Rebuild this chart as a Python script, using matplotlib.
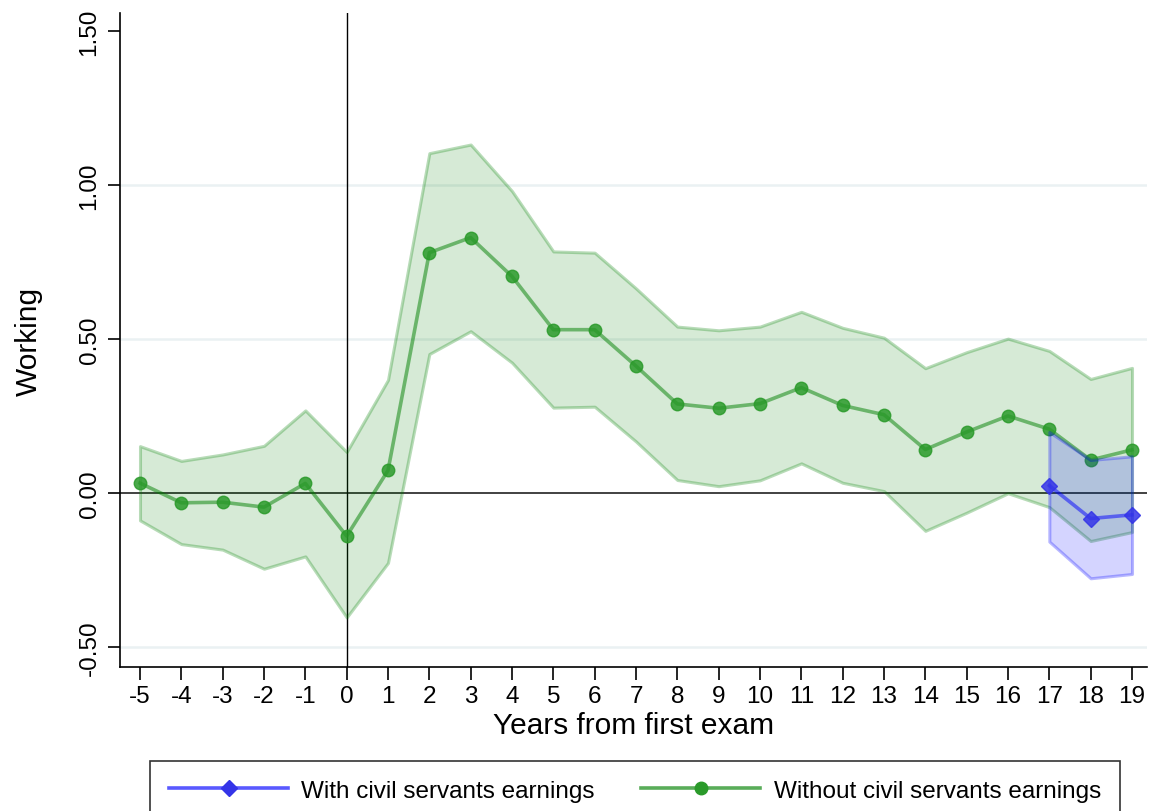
import matplotlib
matplotlib.use("Agg")
import matplotlib.pyplot as plt
from matplotlib.lines import Line2D
import numpy as np

plt.rcParams['font.family'] = ['Liberation Sans', 'DejaVu Sans']

# years relative to first exam
years = list(range(-5, 20))

# without civil servants earnings: estimate and 95% CI
est_without = [0.032, -0.032, -0.030, -0.046, 0.031, -0.140, 0.073, 0.780, 0.829,
               0.703, 0.530, 0.530, 0.412, 0.289, 0.275, 0.290, 0.342, 0.284,
               0.254, 0.141, 0.198, 0.250, 0.207, 0.107, 0.140]
hi_without = [0.152, 0.104, 0.125, 0.153, 0.268, 0.133, 0.367, 1.103, 1.131,
              0.980, 0.784, 0.780, 0.664, 0.540, 0.528, 0.540, 0.588, 0.536,
              0.504, 0.405, 0.457, 0.501, 0.461, 0.370, 0.406]
lo_without = [-0.089, -0.166, -0.184, -0.246, -0.206, -0.404, -0.227, 0.451, 0.525,
              0.423, 0.277, 0.280, 0.167, 0.042, 0.022, 0.041, 0.096, 0.033,
              0.006, -0.123, -0.064, -0.001, -0.046, -0.156, -0.127]

# with civil servants earnings (only last years)
years_with = [17, 18, 19]
est_with = [0.024, -0.083, -0.071]
hi_with = [0.198, 0.107, 0.119]
lo_with = [-0.158, -0.277, -0.263]

xticks = years
yticks = [-0.5, 0.0, 0.5, 1.0, 1.5]
ytick_labels = ["-0.50", "0.00", "0.50", "1.00", "1.50"]

GREEN = "#008000"
BLUE = "#0000FF"

fig = plt.figure(figsize=(11.49, 8.12), dpi=100)
ax = fig.add_axes([120 / 1149, 1 - 668 / 812, 1027 / 1149, 654 / 812])

# grid and reference lines
for yv in [-0.5, 0.5, 1.0]:
    ax.axhline(yv, color="#EAF1F3", lw=1.8, zorder=0)
ax.axhline(0, color="#333333", lw=1.3, zorder=1)
ax.axvline(0, color="black", lw=1.0, zorder=1)

ax.fill_between(years, lo_without, hi_without, facecolor=(0, 0.5, 0, 0.16),
                edgecolor=(0, 0.5, 0, 0.28), lw=2.2, zorder=2)
ax.plot(years, est_without, color=GREEN, alpha=0.5, lw=2.6, zorder=3)
ax.plot(years, est_without, ls="none", marker="o", ms=9, mfc="#2A9A2A",
        mec="#2A9A2A", alpha=0.85, zorder=4)

ax.fill_between(years_with, lo_with, hi_with, facecolor=(0, 0, 1, 0.17),
                edgecolor=(0, 0, 1, 0.28), lw=2.2, zorder=5)
ax.plot(years_with, est_with, color=BLUE, alpha=0.5, lw=2.6, zorder=6)
ax.plot(years_with, est_with, ls="none", marker="D", ms=8, mfc="#3434E8",
        mec="#3434E8", alpha=0.85, zorder=7)

ax.set_xlim(-5.484, 19.363)
ax.set_ylim(-0.565, 1.558)
ax.set_xticks(xticks)
ax.set_xticklabels([str(v) for v in xticks])
ax.set_yticks(yticks)
ax.set_yticklabels(ytick_labels, rotation=90, va="center")
ax.tick_params(axis="both", length=9, width=1.2, labelsize=17.5, direction="out")
ax.tick_params(axis="x", pad=4)
ax.tick_params(axis="y", pad=5)

for s in ["top", "right"]:
    ax.spines[s].set_visible(False)
for s in ["left", "bottom"]:
    ax.spines[s].set_linewidth(1.2)

ax.set_xlabel("Years from first exam", fontsize=21.5, labelpad=3)
ax.set_ylabel("Working", fontsize=21.5, labelpad=26)

handles = [
    Line2D([], [], color=(0.35, 0.35, 1.0), lw=2.6, marker="D", ms=8,
           mfc="#3434E8", mec="#3434E8"),
    Line2D([], [], color=(0.35, 0.68, 0.35), lw=2.6, marker="o", ms=9,
           mfc="#2A9A2A", mec="#2A9A2A"),
]
labels = ["With civil servants earnings", "Without civil servants earnings"]
leg = fig.legend(handles, labels, loc="upper left", ncol=2, mode="expand",
                 bbox_to_anchor=(150 / 1149, 1 - 762 / 812, 970 / 1149, 0),
                 fontsize=17.5, frameon=True, fancybox=False, handlelength=4.9,
                 handletextpad=0.55, borderpad=0.78, borderaxespad=0)
leg.get_frame().set_edgecolor("black")
leg.get_frame().set_linewidth(1.2)

fig.savefig("out.png", dpi=100)
